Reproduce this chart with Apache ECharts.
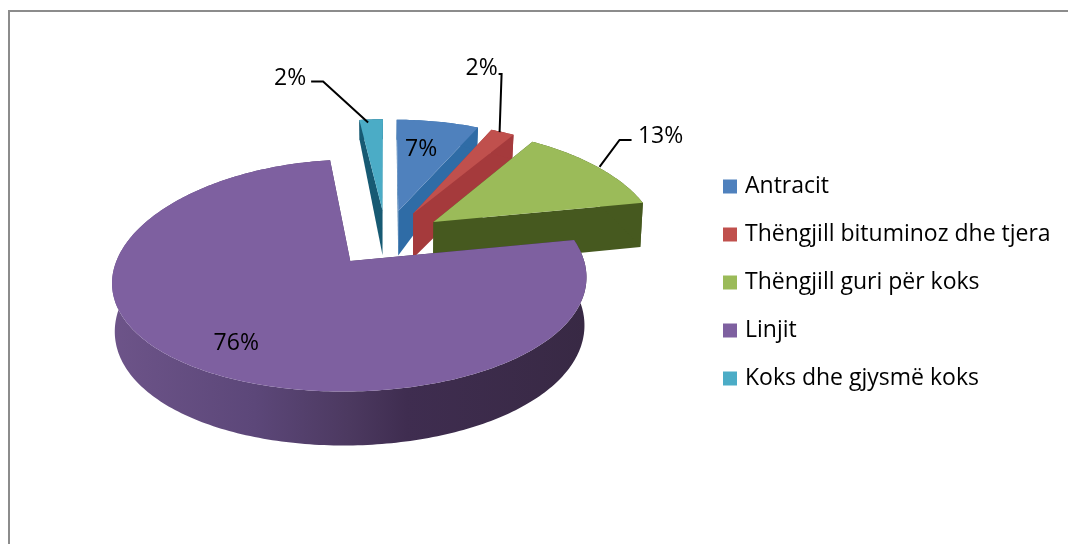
<!DOCTYPE html>
<html><head><meta charset="utf-8">
<style>html,body{margin:0;padding:0;background:#fff}#c{width:1068px;height:544px}</style>
<script src="https://cdn.jsdelivr.net/npm/echarts@6/dist/echarts.min.js"></script>
</head><body><div id="c"></div>
<script>
const categories = ['Antracit','Thëngjill bituminoz dhe tjera','Thëngjill guri për koks','Linjit','Koks dhe gjysmë koks'];
const shares = [7,2,13,76,2];
const percentLabels = ['7%','2%','13%','76%','2%'];
const topColors = ['#4f81bd','#c0504d','#9bbb59','#7e60a0','#4bacc6'];
const sideColors = ['#2f6ca6','#a53a3c','#46591f','#5a4570','#175a73'];

const FONT = '"Open Sans","Noto Sans",sans-serif';
const V = {cx:386, cy:237.6, R:226, Rb:108.4, kx:0.16, ky:0.122, explode:0.26, depth:46, bottomX:0.99};
const labelStyle = [
  {radial:0.62, dx:-3, dy:-4},
  {leader:[[-3,0],[-1,-58],[-4,-58]], anchor:[-21,-64], align:'center'},
  {leader:[[2,0],[22,-27],[34,-27]], anchor:[63,-30], align:'center'},
  {radial:0.66, dx:-11, dy:17},
  {leader:[[-3,3],[-48,-38],[-60,-38]], anchor:[-81,-41], align:'center'}
];
const total = shares.reduce((a,b)=>a+b,0);
const D2R = Math.PI/180;

function project(X,Y,drop){
  const wx = 1-V.kx*Y, wy = 1-V.ky*Y;
  let sx = V.R*X/wx, sy = V.Rb*Y/wy;
  if(drop){
    let d = V.depth/wy;
    if(Y < -0.5){ const f = Math.min(1,(-0.5-Y)/0.75); d = d*(1-f)+20*f; }
    sy += d; sx *= V.bottomX;
  }
  return [V.cx+sx, V.cy+sy];
}
function sliceGeom(i){
  let before = 0; for(let j=0;j<i;j++) before += shares[j];
  const a0 = -90+before/total*360, a1 = a0+shares[i]/total*360, mid=(a0+a1)/2;
  const ox = V.explode*Math.cos(mid*D2R), oy = V.explode*Math.sin(mid*D2R);
  const pt = (a,r,drop)=>project(ox+r*Math.cos(a*D2R), oy+r*Math.sin(a*D2R), drop);
  return {a0,a1,mid,pt};
}
function renderSlice(i){
  return function(){
    const g = sliceGeom(i), rimTop=[], rimBot=[];
    const n = Math.max(6,Math.ceil(g.a1-g.a0));
    for(let s=0;s<=n;s++){
      const a = g.a0+(g.a1-g.a0)*s/n;
      rimTop.push(g.pt(a,1,false)); rimBot.push(g.pt(a,1,true));
    }
    const apexT = g.pt(0,0,false), apexB = g.pt(0,0,true);
    const side = i===3 ? {type:'linear',x:112,y:0,x2:587,y2:0,global:true,colorStops:[
      {offset:0,color:'#6d5489'},{offset:0.3,color:'#5c4779'},{offset:0.5,color:'#4c3960'},
      {offset:0.62,color:'#3f2d50'},{offset:1,color:'#382944'}]} : sideColors[i];
    const poly = (pts,fill)=>({type:'polygon',shape:{points:pts},style:{fill:fill,stroke:null}});
    const kids = [
      poly([apexT,rimTop[0],rimBot[0],apexB],side),
      poly([apexT,rimTop[n],rimBot[n],apexB],side),
      poly(rimTop.concat(rimBot.slice().reverse()),side),
      poly([apexT].concat(rimTop),topColors[i])
    ];
    const ls = labelStyle[i];
    const txt = (x,y,align)=>({type:'text',z2:50,style:{x:x,y:y,text:percentLabels[i],fill:'#000',font:'23px '+FONT,align:align,verticalAlign:'middle'}});
    if(ls.leader){
      const r = g.pt(g.mid,1,false);
      kids.push({type:'polyline',z2:40,shape:{points:ls.leader.map(p=>[r[0]+p[0],r[1]+p[1]])},style:{stroke:'#000',lineWidth:2,fill:null}});
      kids.push(txt(r[0]+ls.anchor[0],r[1]+ls.anchor[1],ls.align));
    } else {
      const r = g.pt(g.mid,ls.radial,false);
      kids.push(txt(r[0]+ls.dx,r[1]+ls.dy,'center'));
    }
    return {type:'group',children:kids};
  };
}
const zOrder = [2,3,4,5,1];
const series = categories.map((name,i)=>({
  type:'custom', name:name, coordinateSystem:'none', silent:true, animation:false, clip:false,
  z:zOrder[i], itemStyle:{color:topColors[i]}, data:[shares[i]], renderItem:renderSlice(i)
}));
const chart = echarts.init(document.getElementById('c'),null,{renderer:'canvas'});
chart.setOption({
  animation:false, backgroundColor:'#fff',
  graphic:[
    {type:'line',shape:{x1:9,y1:11,x2:1068,y2:11},style:{stroke:'#8c8c8c',lineWidth:2}},
    {type:'line',shape:{x1:9,y1:10,x2:9,y2:544},style:{stroke:'#8c8c8c',lineWidth:2}}
  ],
  legend:{
    orient:'vertical', left:723, top:175, icon:'rect', itemWidth:14, itemHeight:14, itemGap:25,
    align:'left', selectedMode:false, padding:0,
    data:categories,
    textStyle:{color:'#000',fontFamily:'"Open Sans","Noto Sans",sans-serif',fontSize:23,padding:[0,0,0,3]}
  },
  series:series
});
</script></body></html>
